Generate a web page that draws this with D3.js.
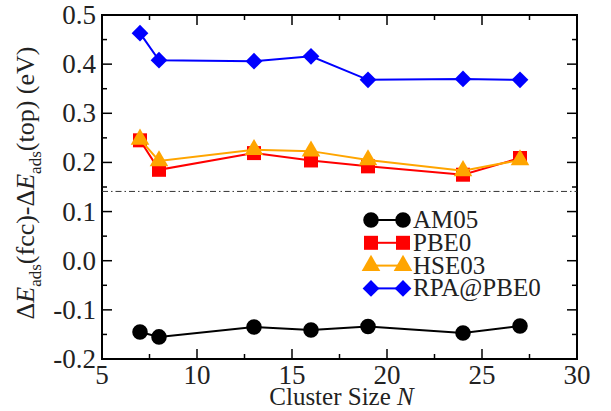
<!DOCTYPE html>
<html>
<head>
<meta charset="utf-8">
<script src="https://cdn.jsdelivr.net/npm/d3@7"></script>
</head>
<body style="margin:0">
<script>
var sizes = [7, 8, 13, 16, 19, 24, 27];
var am05 = [-0.145, -0.155, -0.135, -0.141, -0.134, -0.147, -0.133];
var pbe0 = [0.245, 0.185, 0.219, 0.204, 0.192, 0.175, 0.209];
var hse03 = [0.247, 0.203, 0.226, 0.223, 0.205, 0.183, 0.205];
var rpa = [0.463, 0.408, 0.406, 0.416, 0.368, 0.370, 0.368];
var refLine = 0.141;
var xTicks = [5, 10, 15, 20, 25, 30];
var yTicks = [-0.2, -0.1, 0.0, 0.1, 0.2, 0.3, 0.4, 0.5];

var series = [
    {name: 'AM05', values: am05, color: '#000000', symbol: d3.symbolCircle, size: 190, rot: 0},
    {name: 'PBE0', values: pbe0, color: '#ff0000', symbol: d3.symbolSquare, size: 196, rot: 0},
    {name: 'HSE03', values: hse03, color: '#ffa500', symbol: d3.symbolTriangle, size: 150, rot: 0},
    {name: 'RPA@PBE0', values: rpa, color: '#0000ff', symbol: d3.symbolSquare, size: 140, rot: 45}
];

var FONT = 'Times New Roman';
var W = 611, H = 411;
var margin = {top: 15, right: 34, bottom: 52, left: 102};
var width = W - margin.left - margin.right,
    height = H - margin.top - margin.bottom;

var svg = d3.select('body').append('svg')
    .attr('width', W)
    .attr('height', H);
var g = svg.append('g')
    .attr('transform', 'translate(' + margin.left + ',' + margin.top + ')');

var x = d3.scaleLinear().domain([5, 30]).range([0, width]);
var y = d3.scaleLinear().domain([-0.2, 0.5]).range([height, 0]);

// minor + major ticks on all four sides, pointing inward
var xMinor = d3.range(7.5, 30, 5);
var yMinor = d3.range(-0.15, 0.5, 0.1);

function tickLines(sel, vals, len, horiz) {
    vals.forEach(function(v) {
        if (horiz) {
            sel.append('line').attr('x1', x(v)).attr('x2', x(v)).attr('y1', height).attr('y2', height - len);
            sel.append('line').attr('x1', x(v)).attr('x2', x(v)).attr('y1', 0).attr('y2', len);
        } else {
            sel.append('line').attr('y1', y(v)).attr('y2', y(v)).attr('x1', 0).attr('x2', len);
            sel.append('line').attr('y1', y(v)).attr('y2', y(v)).attr('x1', width).attr('x2', width - len);
        }
    });
}
var ticks = g.append('g').attr('stroke', '#000').attr('stroke-width', 1.5);
tickLines(ticks, xTicks, 10, true);
tickLines(ticks, xMinor, 5, true);
tickLines(ticks, yTicks, 10, false);
tickLines(ticks, yMinor, 5, false);

function label(sel, size) {
    return sel.attr('fill', '#222')
        .attr('font-family', FONT)
        .attr('font-size', size);
}

// tick labels
label(g.append('g').selectAll('text')
    .data(xTicks)
    .enter().append('text')
    .attr('x', d => x(d))
    .attr('y', height + 25)
    .attr('text-anchor', 'middle'), 27)
    .text(d => d);
label(g.append('g').selectAll('text')
    .data(yTicks)
    .enter().append('text')
    .attr('x', -6)
    .attr('y', d => y(d) + 9)
    .attr('text-anchor', 'end'), 27)
    .text(d => d.toFixed(1));

// frame
g.append('rect')
    .attr('width', width)
    .attr('height', height)
    .attr('fill', 'none')
    .attr('stroke', '#000')
    .attr('stroke-width', 2);

// dash-dot reference line
g.append('line')
    .attr('x1', 0).attr('x2', width)
    .attr('y1', y(refLine)).attr('y2', y(refLine))
    .attr('stroke', '#333')
    .attr('stroke-width', 1)
    .attr('stroke-dasharray', '6 3 1.5 3');

var line = d3.line()
    .x((d, i) => x(sizes[i]))
    .y(d => y(d));

series.forEach(function(s) {
    g.append('path')
        .datum(s.values)
        .attr('d', line)
        .attr('fill', 'none')
        .attr('stroke', s.color)
        .attr('stroke-width', 2);
    g.append('g').selectAll('path')
        .data(s.values)
        .enter().append('path')
        .attr('d', d3.symbol().type(s.symbol).size(s.size))
        .attr('transform', (d, i) => 'translate(' + x(sizes[i]) + ',' + y(d) + ') rotate(' + s.rot + ')')
        .attr('fill', s.color);
});

// legend
var legend = g.append('g')
    .attr('transform', 'translate(' + (371 - margin.left) + ',' + (220 - margin.top) + ')');
series.forEach(function(s, i) {
    var row = legend.append('g').attr('transform', 'translate(0,' + (i * 22.8) + ')');
    row.append('line')
        .attr('x1', 0).attr('x2', 32)
        .attr('stroke', s.color)
        .attr('stroke-width', 2);
    [0, 32].forEach(function(px) {
        row.append('path')
            .attr('d', d3.symbol().type(s.symbol).size(s.size))
            .attr('transform', 'translate(' + px + ',0) rotate(' + s.rot + ')')
            .attr('fill', s.color);
    });
    label(row.append('text')
        .attr('x', 42)
        .attr('y', 8), 25)
        .text(s.name);
});

// axis titles
var xt = label(g.append('text')
    .attr('x', width / 2 + 2)
    .attr('y', height + 46)
    .attr('text-anchor', 'middle'), 25);
xt.append('tspan').text('Cluster Size  ');
xt.append('tspan').attr('font-style', 'italic').text('N');

var yt = label(svg.append('text')
    .attr('transform', 'translate(34,' + (margin.top + height / 2 - 4) + ') rotate(-90)')
    .attr('text-anchor', 'middle'), 26);
yt.append('tspan').text('\u0394');
yt.append('tspan').attr('font-style', 'italic').text('E');
yt.append('tspan').attr('dy', 7).attr('font-size', 17).text('ads');
yt.append('tspan').attr('dy', -7).text('(fcc)-\u0394');
yt.append('tspan').attr('font-style', 'italic').text('E');
yt.append('tspan').attr('dy', 7).attr('font-size', 17).text('ads');
yt.append('tspan').attr('dy', -7).text('(top) (eV)');
</script>
</body>
</html>
